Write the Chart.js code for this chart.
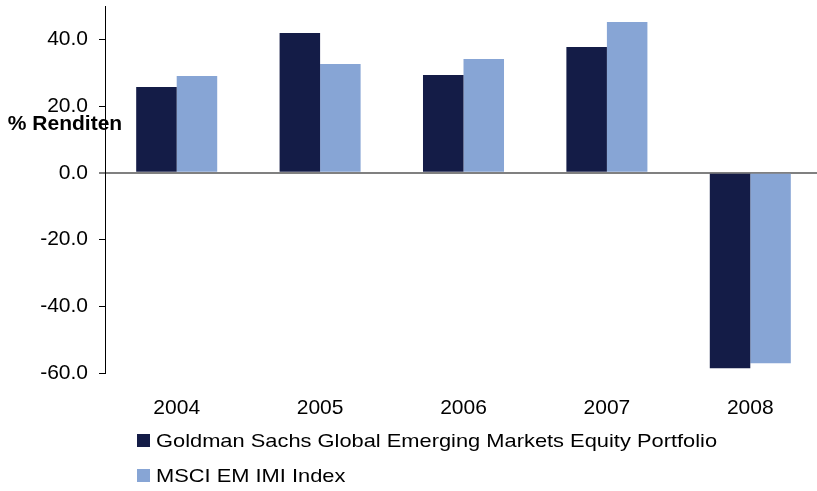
<!DOCTYPE html>
<html>
<head>
<meta charset="utf-8">
<script src="https://cdn.jsdelivr.net/npm/chart.js@4.4.1/dist/chart.umd.min.js"></script>
<style>
    html, body { margin: 0; padding: 0; background: #fff; overflow: hidden; }
    #wrap { position: relative; width: 822px; height: 491px; }
    #legend { position: absolute; left: 137px; top: 423px; font-family: "Liberation Sans", Arial, sans-serif; font-size: 19px; color: #000; }
    #legend div { display: flex; align-items: center; height: 35px; white-space: nowrap; }
    #legend span.box { display: inline-block; width: 13px; height: 13px; margin-right: 6px; }
    #legend span.txt { display: inline-block; transform: scaleX(1.15); transform-origin: left center; }
</style>
</head>
<body>
<div id="wrap">
    <canvas id="chart" width="822" height="491"></canvas>
    <div id="legend"></div>
</div>
<script>
// data
const years = ['2004', '2005', '2006', '2007', '2008'];
const portfolioReturns = [25.7, 41.9, 29.3, 37.7, -58.6];
const indexReturns = [29.0, 32.6, 34.1, 45.2, -57.1];
const seriesNames = ['Goldman Sachs Global Emerging Markets Equity Portfolio', 'MSCI EM IMI Index'];
const seriesColors = ['#141c47', '#87a5d5'];
const yTicks = [-60, -40, -20, 0, 20, 40];

const fontFamily = '"Liberation Sans", Arial, sans-serif';

// y axis title drawn beside the axis, horizontal
const axisTitle = {
    id: 'axisTitle',
    afterDraw(chart) {
        const ctx = chart.ctx;
        ctx.save();
        ctx.font = 'bold 21px ' + fontFamily;
        ctx.fillStyle = '#000';
        ctx.textAlign = 'center';
        ctx.textBaseline = 'middle';
        ctx.fillText('% Renditen', 65, 124);
        ctx.restore();
    }
};

const ctx = document.getElementById('chart').getContext('2d');
const chart = new Chart(ctx, {
    type: 'bar',
    data: {
        labels: years,
        datasets: [{
            label: seriesNames[0],
            data: portfolioReturns,
            backgroundColor: seriesColors[0]
        }, {
            label: seriesNames[1],
            data: indexReturns,
            backgroundColor: seriesColors[1]
        }]
    },
    options: {
        responsive: false,
        animation: false,
        layout: {
            padding: { top: 6, left: 0, right: 0, bottom: 73 }
        },
        datasets: {
            bar: {
                categoryPercentage: 0.565,
                barPercentage: 1.0
            }
        },
        scales: {
            x: {
                afterFit(scale) {
                    scale.height = 45;
                    scale.paddingLeft = 0;
                    scale.paddingRight = 0;
                },
                grid: { display: false },
                border: { display: false },
                ticks: {
                    padding: 15,
                    color: '#000',
                    font: { family: fontFamily, size: 21 }
                }
            },
            y: {
                min: -60,
                max: 50,
                afterFit(scale) {
                    scale.width = 105;
                    scale.paddingTop = 0;
                    scale.paddingBottom = 0;
                },
                afterBuildTicks(scale) {
                    scale.ticks = yTicks.map(v => ({ value: v }));
                },
                border: { display: true, color: '#000', width: 1 },
                grid: {
                    drawTicks: true,
                    tickLength: 6,
                    color: (c) => c.tick && c.tick.value === 0 ? '#808080' : 'rgba(0,0,0,0)',
                    tickColor: (c) => c.tick && c.tick.value === 0 ? '#808080' : '#000',
                    lineWidth: (c) => c.tick && c.tick.value === 0 ? 2 : 1
                },
                ticks: {
                    padding: 11,
                    color: '#000',
                    font: { family: fontFamily, size: 21 },
                    callback: (value) => Number(value).toFixed(1)
                }
            }
        },
        plugins: {
            legend: { display: false },
            tooltip: { enabled: false }
        }
    },
    plugins: [axisTitle]
});

// legend below the chart, one series per row
const legendEl = document.getElementById('legend');
chart.data.datasets.forEach(ds => {
    const row = document.createElement('div');
    const box = document.createElement('span');
    box.className = 'box';
    box.style.background = ds.backgroundColor;
    const txt = document.createElement('span');
    txt.className = 'txt';
    txt.textContent = ds.label;
    row.appendChild(box);
    row.appendChild(txt);
    legendEl.appendChild(row);
});
</script>
</body>
</html>
